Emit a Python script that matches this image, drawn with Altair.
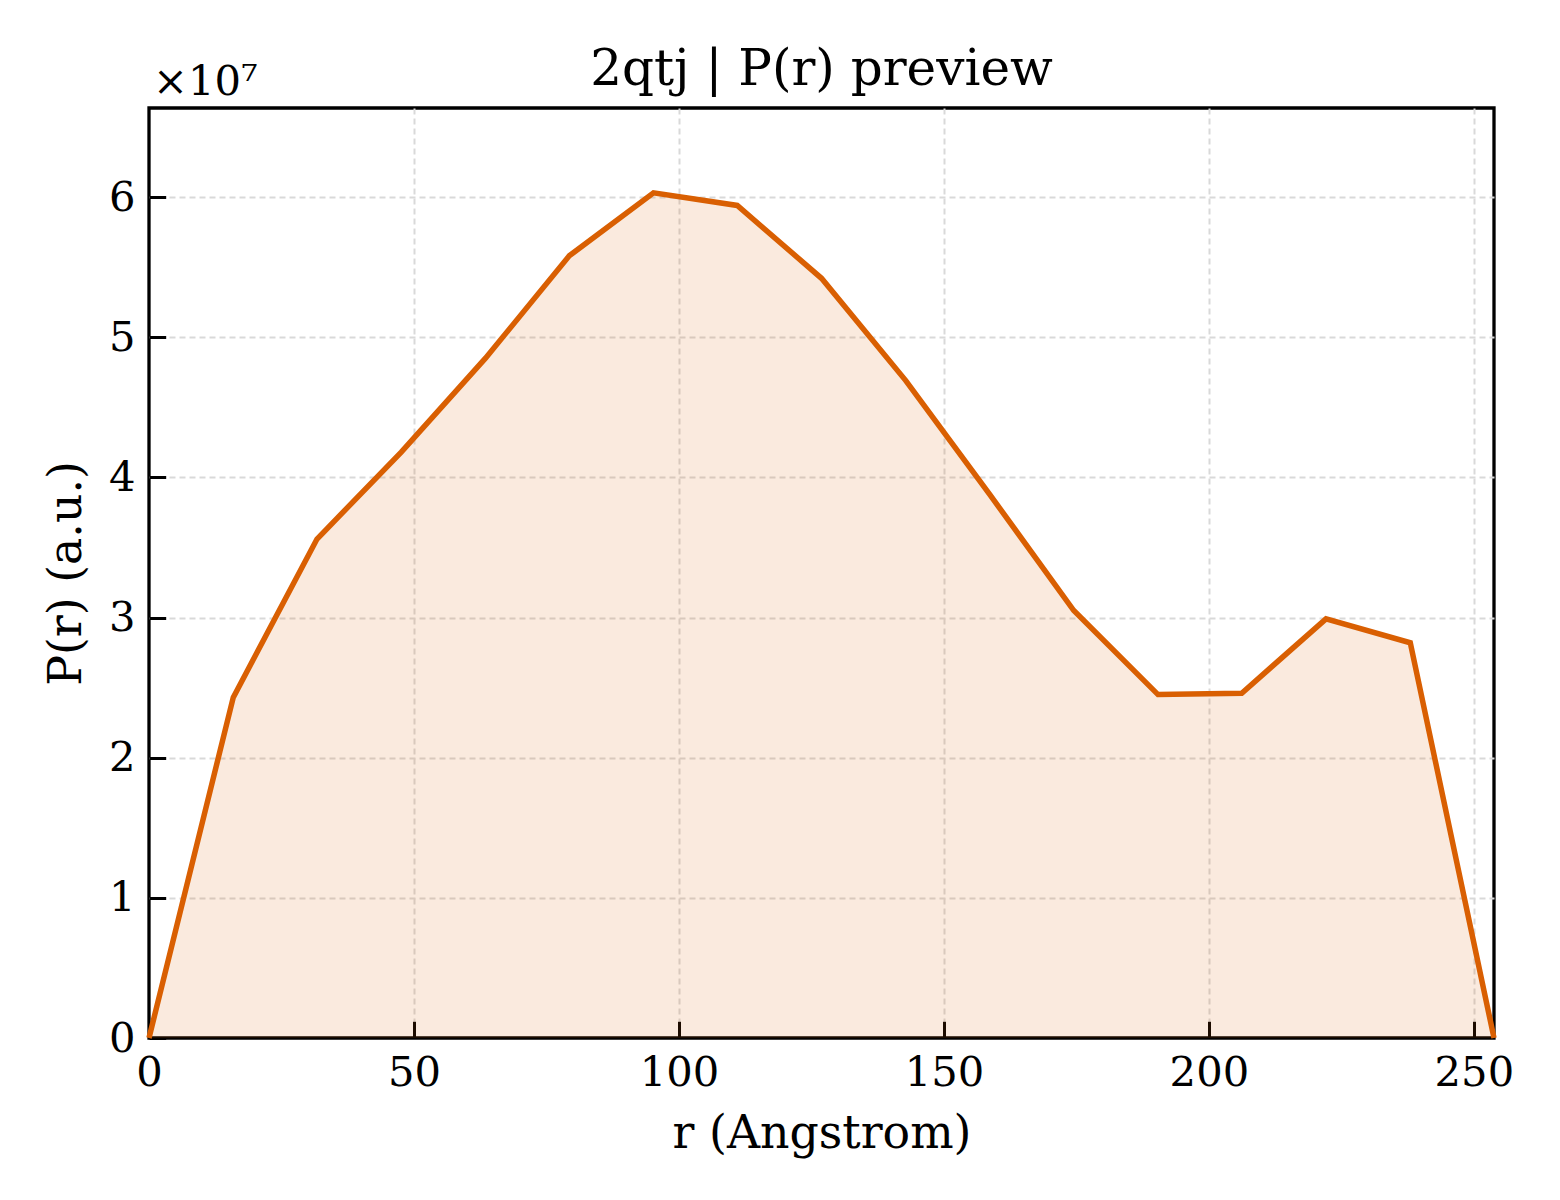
"""
P(r) preview chart for 2qtj
"""
import altair as alt
import pandas as pd

# distance r (Angstrom) and P(r) values
r_values = [0.0, 15.9, 31.7, 47.6, 63.5, 79.3, 95.2, 111.0, 126.9,
            142.8, 158.6, 174.5, 190.4, 206.2, 222.1, 238.0, 253.8]
pr_values = [0.0, 2.43e7, 3.56e7, 4.18e7, 4.85e7, 5.58e7, 6.03e7, 5.94e7, 5.42e7,
             4.69e7, 3.88e7, 3.05e7, 2.45e7, 2.46e7, 2.99e7, 2.82e7, 0.0]

x_ticks = [0, 50, 100, 150, 200, 250]
y_ticks = [0, 1e7, 2e7, 3e7, 4e7, 5e7, 6e7]
offset_text = ["×10⁷"]

LINE_COLOR = '#d95f02'
FONT = 'DejaVu Serif'
TICK_LEN = 16.7

df = pd.DataFrame({'r': r_values, 'pr': pr_values})

# hide the grid line that would sit on the frame
no_grid_at_zero = alt.condition("datum.value == 0", alt.value(0), alt.value(1))

x_enc = alt.X('r:Q', title='r (Angstrom)',
              scale=alt.Scale(domain=[0, 253.8], nice=False, zero=False),
              axis=alt.Axis(values=x_ticks, offset=-TICK_LEN, tickSize=TICK_LEN,
                            labelPadding=14, titlePadding=18, labelFlush=False,
                            gridOpacity=no_grid_at_zero))
y_enc = alt.Y('pr:Q', title='P(r) (a.u.)',
              scale=alt.Scale(domain=[0, 6.635e7], nice=False),
              axis=alt.Axis(values=y_ticks, offset=-TICK_LEN, tickSize=TICK_LEN,
                            labelExpr='format(datum.value / 1e7, "d")',
                            labelPadding=14, titlePadding=18, labelFlush=False,
                            gridOpacity=no_grid_at_zero))

base = alt.Chart(df).encode(x=x_enc, y=y_enc)

fill = base.mark_area(color=LINE_COLOR, fillOpacity=0.13)
line = base.mark_line(color=LINE_COLOR, strokeWidth=5.5)

offset_label = alt.Chart(pd.DataFrame({'t': offset_text})).mark_text(
    font=FONT, fontSize=41.7, align='left', baseline='alphabetic', color='black'
).encode(x=alt.value(4), y=alt.value(-13), text='t:N')

chart = (fill + line + offset_label).properties(
    width=1345,
    height=930,
    padding={'left': 141, 'top': 100, 'right': 50, 'bottom': 140},
    autosize=alt.AutoSizeParams(type='none'),
    title=alt.Title('2qtj | P(r) preview', font=FONT, fontSize=50,
                    fontWeight='normal', color='black', anchor='middle',
                    offset=8, dy=41),
).configure_view(
    stroke='black', strokeWidth=3.3
).configure_axis(
    domain=False,
    tickColor='black', tickWidth=3,
    labelFont=FONT, labelFontSize=41.7, labelColor='black',
    titleFont=FONT, titleFontSize=45.8, titleFontWeight='normal', titleColor='black',
    grid=True, gridColor='#d9d9d9', gridWidth=2, gridDash=[6, 4],
)

chart.save("out.html", embed_options={"renderer": "svg", "actions": False})
